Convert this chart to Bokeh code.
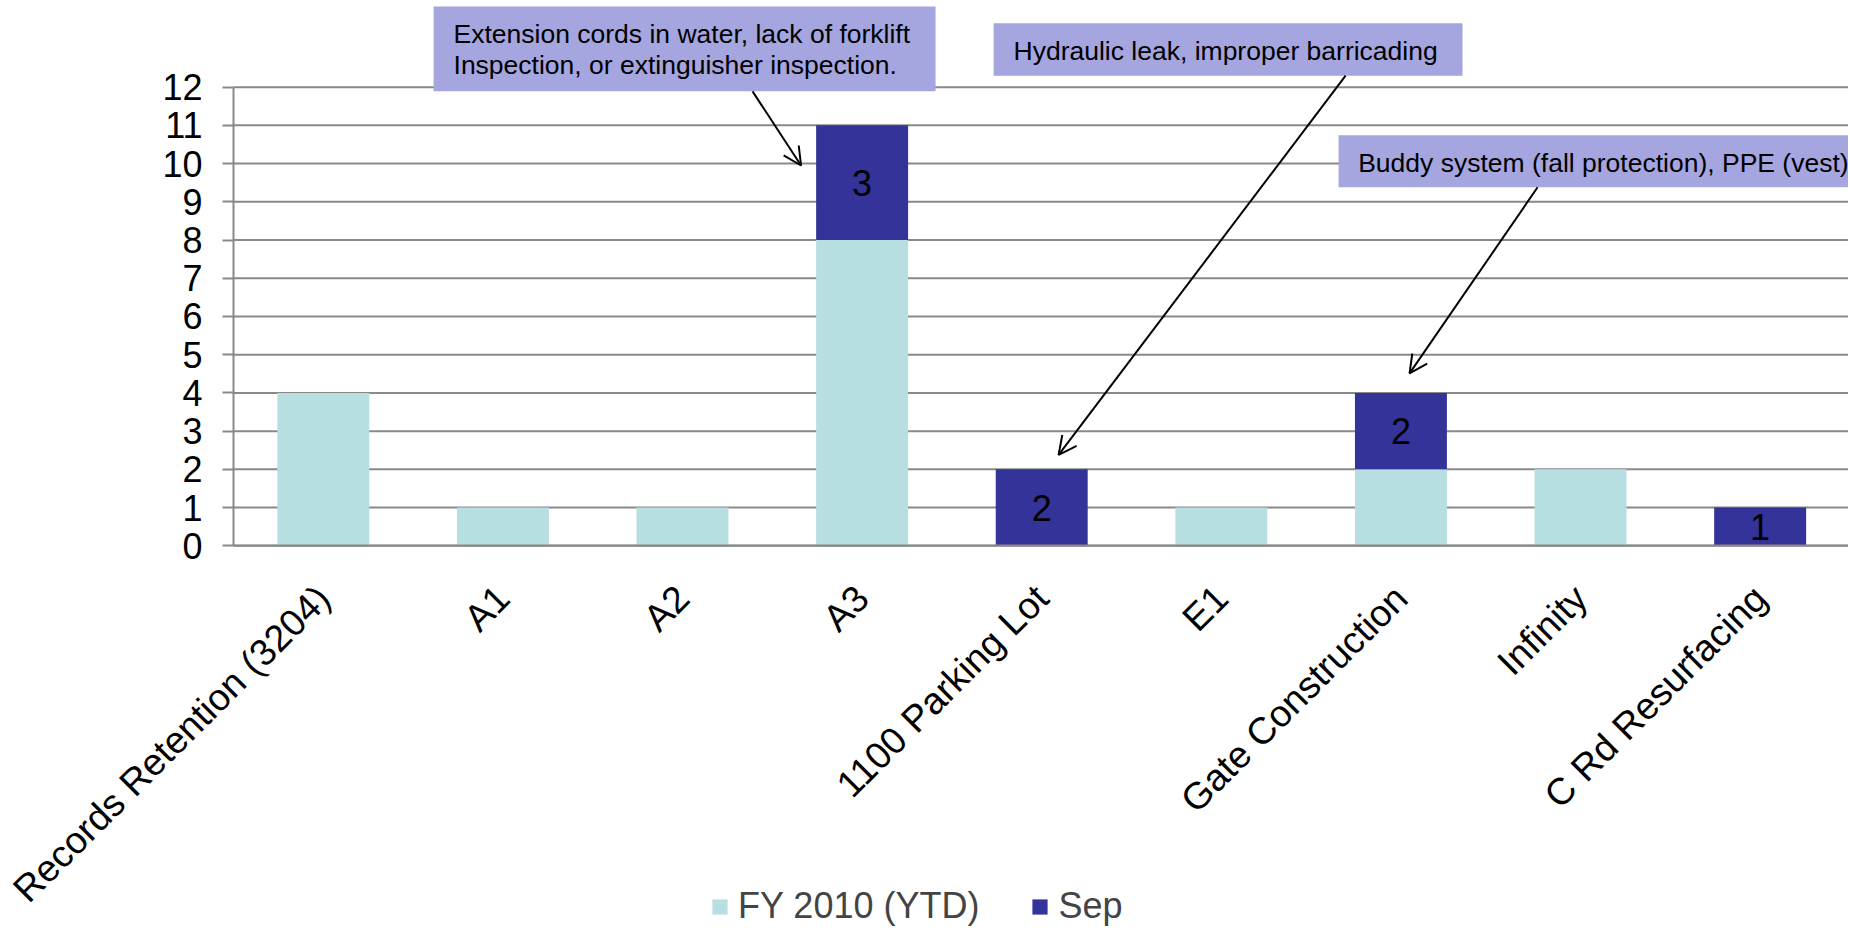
import math
from bokeh.plotting import figure
from bokeh.models import (Range1d, FixedTicker, Legend, LegendItem, BoxAnnotation,
                          Arrow, OpenHead, Label, ColumnDataSource)
from bokeh.core.properties import value
from bokeh.embed import file_html
from bokeh.resources import INLINE

# ---- data ----
categories = ["Records Retention (3204)", "A1", "A2", "A3", "1100 Parking Lot",
              "E1", "Gate Construction", "Infinity", "C Rd Resurfacing"]
fy2010_ytd = [4, 1, 1, 8, 0, 1, 2, 2, 0]
sep = [0, 0, 0, 3, 2, 0, 2, 0, 1]
series_names = ["FY 2010 (YTD)", "Sep"]
y_ticks = list(range(0, 13))

# callouts: text lines, box (left, right, bottom, top) and arrow (x0, y0, x1, y1) in data units
callouts = [
    dict(lines=["Extension cords in water, lack of forklift",
                "Inspection, or extinguisher inspection."],
         box=(1.114, 3.909, 11.89, 14.11), text_x=1.225, text_y=[13.39, 12.57],
         arrow=(2.890, 11.89, 3.160, 9.95)),
    dict(lines=["Hydraulic leak, improper barricading"],
         box=(4.232, 6.843, 12.30, 13.67), text_x=4.343, text_y=[12.94],
         arrow=(6.192, 12.30, 4.594, 2.38)),
    dict(lines=["Buddy system (fall protection), PPE (vest)"],
         box=(6.153, 9.3, 9.38, 10.74), text_x=6.262, text_y=[10.01],
         arrow=(7.261, 9.38, 6.548, 4.51)),
]

LIGHT = "#b7dfe2"
DARK = "#333399"
BOXFILL = "#a5a5df"
GRID = "#898989"
FONT = "Liberation Sans"
BIG = "36px"
CAT = "37.5px"
SMALL = "26.5px"

n = len(categories)
xpos = [i + 0.5 for i in range(n)]
src = ColumnDataSource(dict(x=xpos, fy=fy2010_ytd, sep=sep))

p = figure(width=1848, height=928, output_backend="svg", toolbar_location=None,
           x_range=Range1d(-1.2973, 8.992), y_range=Range1d(-10.013, 14.267),
           min_border_left=0, min_border_right=0, min_border_top=0, min_border_bottom=0)
p.outline_line_color = None
p.background_fill_color = "white"
p.border_fill_color = "white"

# horizontal gridlines (only across the category area)
p.segment(x0=[0] * len(y_ticks), x1=[n] * len(y_ticks), y0=y_ticks, y1=y_ticks,
          line_color=GRID, line_width=2, level="underlay")

renderers = p.vbar_stack(["fy", "sep"], x="x", width=0.512, source=src,
                         color=[LIGHT, DARK], line_color=None)

# value labels inside the Sep segments
lab_x, lab_y, lab_t = [], [], []
for i, (a, b) in enumerate(zip(fy2010_ytd, sep)):
    if b > 0:
        lab_x.append(xpos[i]); lab_y.append(a + b / 2); lab_t.append(str(b))
p.text(x=lab_x, y=lab_y, text=lab_t, text_align="center", text_baseline="middle",
       text_font=value(FONT), text_font_size=BIG, text_color="black")

# axes
p.xgrid.visible = False
p.ygrid.visible = False

p.yaxis.fixed_location = 0
p.yaxis.ticker = FixedTicker(ticks=y_ticks)
p.yaxis.bounds = (0, 12)
p.yaxis.axis_line_color = GRID
p.yaxis.axis_line_width = 2
p.yaxis.major_tick_line_color = GRID
p.yaxis.major_tick_line_width = 2
p.yaxis.major_tick_out = 11
p.yaxis.major_tick_in = 0
p.yaxis.minor_tick_line_color = None
p.yaxis.major_label_standoff = 20
p.yaxis.major_label_text_font = FONT
p.yaxis.major_label_text_font_size = BIG
p.yaxis.major_label_text_color = "black"

p.xaxis.fixed_location = 0
p.xaxis.bounds = (0, n)
p.xaxis.ticker = FixedTicker(ticks=xpos)
p.xaxis.major_label_overrides = {x: c for x, c in zip(xpos, categories)}
p.xaxis.major_label_orientation = math.pi / 4
p.xaxis.axis_line_color = GRID
p.xaxis.axis_line_width = 2
p.xaxis.major_tick_line_color = None
p.xaxis.minor_tick_line_color = None
p.xaxis.major_tick_out = 0
p.xaxis.major_tick_in = 0
p.xaxis.major_label_standoff = 46
p.xaxis.major_label_text_font = FONT
p.xaxis.major_label_text_font_size = CAT
p.xaxis.major_label_text_color = "black"

# callouts
for c in callouts:
    l, r, b, t = c["box"]
    p.add_layout(BoxAnnotation(left=l, right=r, bottom=b, top=t, fill_color=BOXFILL,
                               fill_alpha=1.0, line_color=None, level="annotation"))
for c in callouts:
    for line, ty in zip(c["lines"], c["text_y"]):
        p.add_layout(Label(x=c["text_x"], y=ty, text=line, text_font=FONT,
                           text_font_size=SMALL, text_color="black",
                           text_align="left", text_baseline="alphabetic"))
    x0, y0, x1, y1 = c["arrow"]
    p.add_layout(Arrow(x_start=x0, y_start=y0, x_end=x1, y_end=y1, line_color="black",
                       line_width=2,
                       end=OpenHead(size=18, line_color="black", line_width=2)))

legend = Legend(items=[LegendItem(label=nm, renderers=[r]) for nm, r in zip(series_names, renderers)],
                orientation="horizontal", location=(710, 1),
                glyph_width=19, glyph_height=19, label_standoff=9, spacing=51,
                padding=0, margin=0, border_line_color=None, background_fill_alpha=0,
                label_text_font=FONT, label_text_font_size=BIG, label_height=19)
p.add_layout(legend, "center")

open("out.html", "w").write(file_html(p, INLINE))
